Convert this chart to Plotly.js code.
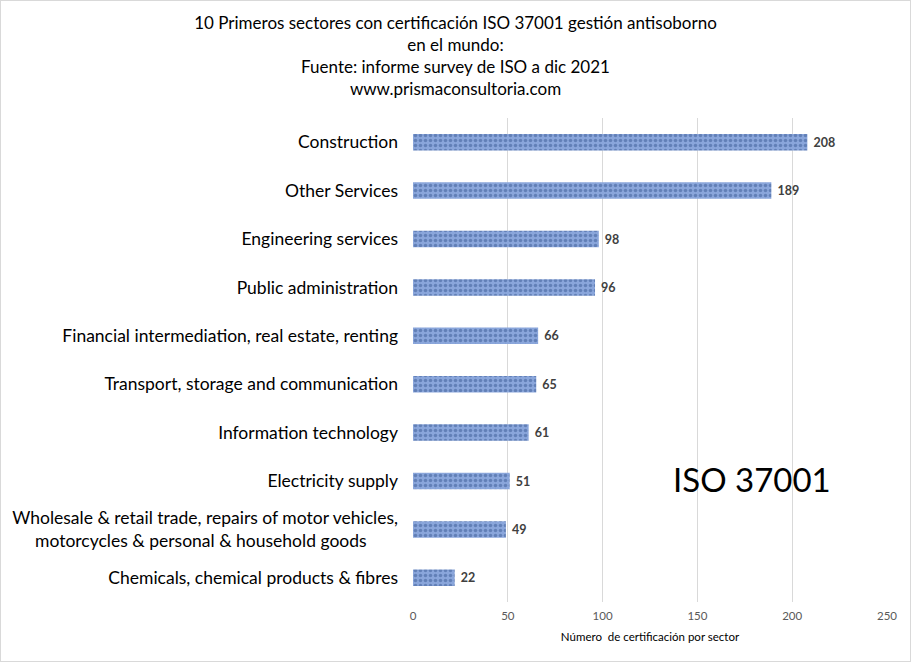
<!DOCTYPE html>
<html>
<head>
<meta charset="utf-8">
<script src="https://cdn.plot.ly/plotly-3.0.1.min.js"></script>
<style>
  html, body { margin: 0; padding: 0; background: #fff; }
  #chart { width: 911px; height: 662px; box-sizing: border-box; border: 1px solid #d9d9d9; }
</style>
</head>
<body>
<div id="chart"></div>
<script>
// Sectores (de arriba a abajo)
const sectores = [
  'Construction',
  'Other Services',
  'Engineering services',
  'Public administration',
  'Financial intermediation, real estate, renting',
  'Transport, storage and communication',
  'Information technology',
  'Electricity supply',
  'Wholesale & retail trade, repairs of motor vehicles,<br>motorcycles & personal & household goods\u00a0\u00a0\u00a0\u00a0\u00a0\u00a0\u00a0',
  'Chemicals, chemical products & fibres'
];

// Número de certificados por sector
const certificados = [208, 189, 98, 96, 66, 65, 61, 51, 49, 22];

const ejeXTicks = [0, 50, 100, 150, 200, 250];

const fuente = 'Lato, "Open Sans", sans-serif';

const traza = {
  type: 'bar',
  orientation: 'h',
  x: certificados,
  y: sectores,
  marker: {
    color: '#7b98d0',
    line: { width: 0 },
    pattern: {
      shape: '.',
      bgcolor: '#8aa6db',
      fgcolor: '#3a5994',
      size: 5,
      solidity: 0.4,
      fillmode: 'overlay'
    }
  },
  text: certificados.map(v => ' ' + v),
  textposition: 'outside',
  textfont: { family: fuente, size: 12.5, color: '#404040', weight: 'bold' },
  cliponaxis: false,
  hoverinfo: 'x+y'
};

const layout = {
  width: 909,
  height: 660,
  margin: { l: 412, r: 23, t: 117, b: 59 },
  paper_bgcolor: '#ffffff',
  plot_bgcolor: '#ffffff',
  font: { family: fuente, color: '#000000' },
  showlegend: false,
  bargap: 0.66,
  title: {
    text: '10 Primeros sectores con certificación ISO 37001 gestión antisoborno<br>en el mundo:<br>Fuente: informe survey de ISO a dic 2021<br>www.prismaconsultoria.com',
    font: { family: fuente, size: 17, color: '#000000' },
    x: 0.5,
    xref: 'container',
    xanchor: 'center',
    y: 0.958,
    yref: 'container',
    yanchor: 'top'
  },
  xaxis: {
    range: [0, 250],
    tickvals: ejeXTicks,
    showgrid: true,
    gridcolor: '#d9d9d9',
    gridwidth: 1,
    zeroline: false,
    showline: false,
    ticks: '',
    ticklabelstandoff: 5,
    tickfont: { family: fuente, size: 11.5, color: '#595959' },
    title: {
      text: 'Número  de certificación por sector',
      font: { family: fuente, size: 11.5, color: '#000000' },
      standoff: 12
    },
    fixedrange: true
  },
  yaxis: {
    type: 'category',
    autorange: 'reversed',
    showgrid: false,
    zeroline: false,
    showline: false,
    ticks: '',
    ticklabelstandoff: 14,
    tickfont: { family: fuente, size: 17.5, color: '#000000' },
    fixedrange: true
  },
  annotations: [{
    text: 'ISO 37001',
    x: 0.715,
    y: 0.255,
    xref: 'paper',
    yref: 'paper',
    xanchor: 'center',
    yanchor: 'middle',
    showarrow: false,
    font: { family: fuente, size: 33, color: '#000000' }
  }]
};

Plotly.newPlot('chart', [traza], layout, { displayModeBar: false, responsive: false });
</script>
</body>
</html>
